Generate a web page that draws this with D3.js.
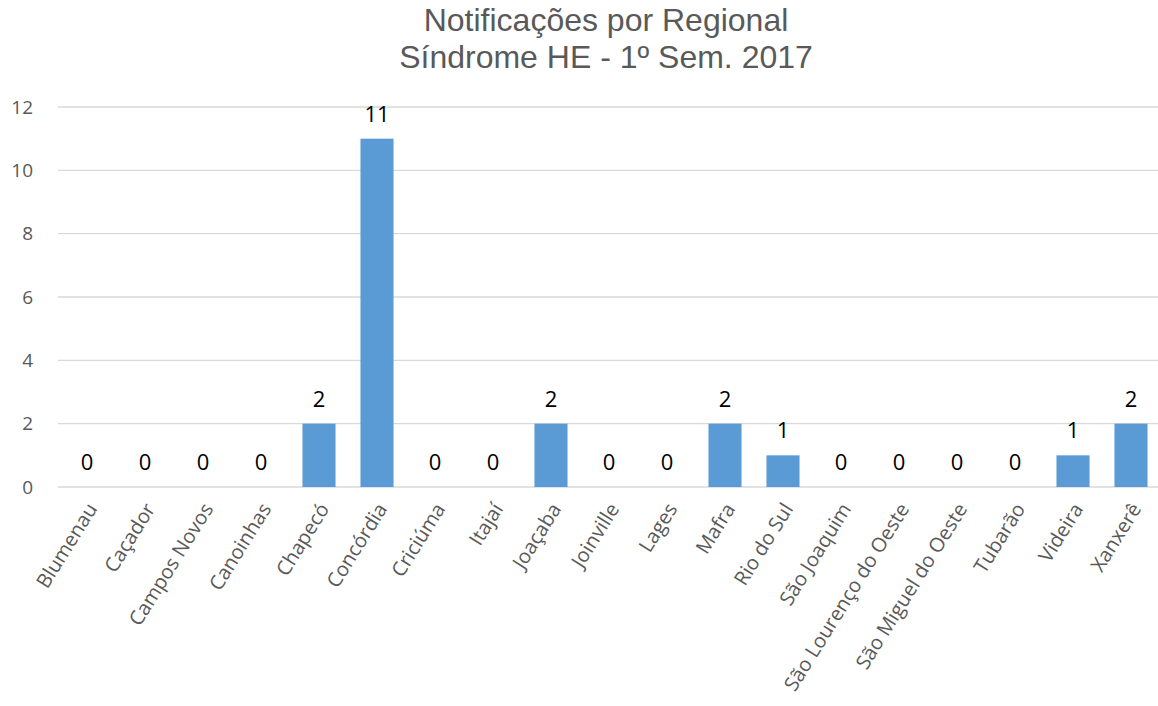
<!DOCTYPE html>
<html>
<head>
<meta charset="utf-8">
<script src="https://cdn.jsdelivr.net/npm/d3@7"></script>
<style>
  body { margin: 0; background: #fff; }
  svg { display: block; }
</style>
</head>
<body>
<svg id="chart"></svg>
<script>
let titleLines = ["Notificações por Regional", "Síndrome HE - 1º Sem. 2017"];

let regionais = ["Blumenau", "Caçador", "Campos Novos", "Canoinhas", "Chapecó",
  "Concórdia", "Criciúma", "Itajaí", "Joaçaba", "Joinville", "Lages", "Mafra",
  "Rio do Sul", "São Joaquim", "São Lourenço do Oeste", "São Miguel do Oeste",
  "Tubarão", "Videira", "Xanxerê"];

let notificacoes = [0, 0, 0, 0, 2, 11, 0, 0, 2, 0, 0, 2, 1, 0, 0, 0, 0, 1, 2];

let yTicks = [0, 2, 4, 6, 8, 10, 12];

function drawChart() {
  let width = 1158;
  let height = 706;
  let margin = {top: 107, right: -2, bottom: 219, left: 58};

  let svg = d3.select("#chart")
    .attr("width", width)
    .attr("height", height);

  let data = regionais.map((r, i) => ({name: r, value: notificacoes[i]}));

  let x = d3.scaleBand()
    .domain(regionais)
    .range([margin.left, width - margin.right])
    .paddingInner(0.43)
    .paddingOuter(0.215);

  let y = d3.scaleLinear()
    .domain([0, 12])
    .range([height - margin.bottom, margin.top]);

  // title
  svg.append("g")
    .selectAll("text")
    .data(titleLines)
    .enter().append("text")
    .attr("x", 606)
    .attr("y", (d, i) => 31 + i * 37)
    .attr("text-anchor", "middle")
    .attr("font-family", "'Liberation Sans', Arial, sans-serif")
    .attr("font-size", 32)
    .attr("fill", "#595959")
    .text(d => d);

  // gridlines
  svg.append("g")
    .selectAll("line")
    .data(yTicks)
    .enter().append("line")
    .attr("x1", margin.left)
    .attr("x2", width)
    .attr("y1", d => y(d))
    .attr("y2", d => y(d))
    .attr("stroke", "#d9d9d9")
    .attr("stroke-width", 1.3);

  // y tick labels
  svg.append("g")
    .selectAll("text")
    .data(yTicks)
    .enter().append("text")
    .attr("x", 33)
    .attr("y", d => y(d))
    .attr("dy", "0.35em")
    .attr("text-anchor", "end")
    .attr("font-family", "'Open Sans', sans-serif")
    .attr("font-size", 19)
    .attr("fill", "#595959")
    .text(d => d);

  // bars
  svg.append("g")
    .selectAll("rect")
    .data(data)
    .enter().append("rect")
    .attr("x", d => x(d.name))
    .attr("width", x.bandwidth())
    .attr("y", d => y(d.value))
    .attr("height", d => y(0) - y(d.value))
    .attr("fill", "#5b9bd5");

  // data labels
  svg.append("g")
    .selectAll("text")
    .data(data)
    .enter().append("text")
    .attr("x", d => x(d.name) + x.bandwidth() / 2)
    .attr("y", d => y(d.value) - 17)
    .attr("text-anchor", "middle")
    .attr("font-family", "'Open Sans', sans-serif")
    .attr("font-size", 22)
    .attr("fill", "#000")
    .text(d => d.value);

  // x labels
  svg.append("g")
    .selectAll("text")
    .data(regionais)
    .enter().append("text")
    .attr("transform", d => `translate(${x(d) + x.bandwidth() / 2 + 5},${y(0) + 18}) rotate(-58)`)
    .attr("text-anchor", "end")
    .attr("dy", "0.35em")
    .attr("font-family", "'Open Sans', sans-serif")
    .attr("font-size", 20)
    .attr("fill", "#595959")
    .text(d => d);
}

drawChart();
</script>
</body>
</html>
